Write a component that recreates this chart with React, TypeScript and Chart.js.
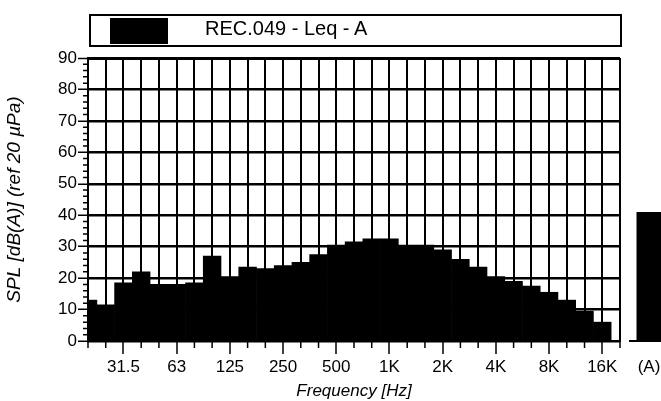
import React, { useEffect, useRef } from "react";
import { Chart, registerables } from "chart.js";

Chart.register(...registerables);

const bands = ["20", "25", "31.5", "40", "50", "63", "80", "100", "125", "160", "200", "250", "315", "400", "500", "630", "800", "1K", "1.25K", "1.6K", "2K", "2.5K", "3.15K", "4K", "5K", "6.3K", "8K", "10K", "12.5K", "16K", "20K"];
const majorLabels = ["31.5", "63", "125", "250", "500", "1K", "2K", "4K", "8K", "16K"];
const leqA = [13, 11.5, 18.5, 22, 18, 18, 18.5, 27, 20.5, 23.5, 23, 24, 25, 27.5, 30.5, 31.5, 32.5, 32.5, 30.5, 30.5, 29, 26, 23.5, 20.5, 19, 17.5, 15.5, 13, 9.5, 6, 0];
const totalLabels = ["(A)"];
const totalValues = [41];
const seriesName = "REC.049 - Leq - A";
const xTitle = "Frequency [Hz]";
const yTitle = "SPL [dB(A)] (ref 20 µPa)";

const FONT = "'Liberation Sans', Arial, Helvetica, sans-serif";
const BLACK = "#000";
const CLEAR = "rgba(0,0,0,0)";

const minorTicks = {
  id: "minorTicks",
  afterDraw(chart: any) {
    const { ctx, chartArea, scales } = chart;
    const x = scales.x;
    const y = scales.y;
    ctx.save();
    ctx.strokeStyle = BLACK;
    ctx.lineWidth = 1.5;
    ctx.beginPath();
    x.ticks.forEach((_t: any, i: number) => {
      if (!majorLabels.includes(bands[i])) {
        const px = x.getPixelForTick(i);
        ctx.moveTo(px, chartArea.bottom);
        ctx.lineTo(px, chartArea.bottom + 7);
      }
    });
    y.ticks.forEach((t: any) => {
      if (t.value % 10 !== 0) {
        const py = y.getPixelForValue(t.value);
        ctx.moveTo(chartArea.left - 5, py);
        ctx.lineTo(chartArea.left, py);
      }
    });
    ctx.stroke();
    ctx.restore();
  },
};

export default function App() {
  const mainRef = useRef<HTMLCanvasElement>(null);
  const totRef = useRef<HTMLCanvasElement>(null);

  useEffect(() => {
    const main = new Chart(mainRef.current as HTMLCanvasElement, {
      type: "bar",
      data: {
        labels: bands,
        datasets: [
          {
            label: seriesName,
            data: leqA,
            backgroundColor: BLACK,
            borderWidth: 0,
            barPercentage: 1,
            categoryPercentage: 1,
            clip: 0,
          } as any,
        ],
      },
      options: {
        animation: false,
        responsive: false,
        layout: { padding: { left: 0, right: 5, top: 58, bottom: 0 } },
        plugins: { legend: { display: false }, tooltip: { enabled: false } },
        scales: {
          x: {
            type: "category",
            offset: false,
            grid: {
              offset: false,
              color: BLACK,
              lineWidth: 2,
              tickColor: (c: any) => (majorLabels.includes(bands[c.index]) ? BLACK : CLEAR),
              tickWidth: 1.5,
              tickLength: 13,
            },
            border: { display: true, color: BLACK, width: 2 },
            ticks: {
              autoSkip: false,
              maxRotation: 0,
              minRotation: 0,
              padding: 3,
              color: BLACK,
              font: { family: FONT, size: 17 },
              callback: (_v: any, i: number) => (majorLabels.includes(bands[i]) ? bands[i] : ""),
            },
            title: {
              display: true,
              text: xTitle,
              color: BLACK,
              font: { family: FONT, size: 17, style: "italic" },
              padding: { top: 0, bottom: 0 },
            },
            afterFit: (s: any) => {
              s.height = 60;
            },
          },
          y: {
            min: 0,
            max: 90,
            grid: {
              color: (c: any) => (c.tick && c.tick.value % 10 === 0 ? BLACK : CLEAR),
              lineWidth: (c: any) => (c.tick && c.tick.value === 90 ? 3 : c.tick && c.tick.value % 10 === 0 ? 2.5 : 0),
              tickColor: (c: any) => (c.tick && c.tick.value % 10 === 0 ? BLACK : CLEAR),
              tickWidth: 1.5,
              tickLength: 10,
            },
            border: { display: true, color: BLACK, width: 2 },
            ticks: {
              stepSize: 2,
              autoSkip: false,
              padding: 1,
              color: BLACK,
              font: { family: FONT, size: 17 },
              callback: (v: any) => (Number(v) % 10 === 0 ? String(v) : ""),
            },
            title: {
              display: true,
              text: yTitle,
              color: BLACK,
              font: { family: FONT, size: 19, style: "italic" },
              padding: { top: 3, bottom: 0 },
            },
            afterFit: (s: any) => {
              s.width = 88;
            },
          },
        },
      },
      plugins: [minorTicks],
    });

    const tot = new Chart(totRef.current as HTMLCanvasElement, {
      type: "bar",
      data: {
        labels: totalLabels,
        datasets: [
          {
            data: totalValues,
            backgroundColor: BLACK,
            borderWidth: 0,
            barPercentage: 25 / 38,
            categoryPercentage: 1,
          },
        ],
      },
      options: {
        animation: false,
        responsive: false,
        layout: { padding: { left: 8, right: 4, top: 58, bottom: 0 } },
        plugins: { legend: { display: false }, tooltip: { enabled: false } },
        scales: {
          x: {
            grid: { display: false, drawTicks: false },
            border: { display: true, color: BLACK, width: 2 },
            ticks: {
              padding: 16,
              color: BLACK,
              font: { family: FONT, size: 17 },
            },
            afterFit: (s: any) => {
              s.height = 60;
              s.paddingLeft = 0;
              s.paddingRight = 0;
            },
          },
          y: { display: false, min: 0, max: 90 },
        },
      },
    });

    return () => {
      main.destroy();
      tot.destroy();
    };
  }, []);

  return (
    <div
      style={{
        position: "fixed",
        left: 0,
        top: 0,
        width: 661,
        height: 401,
        overflow: "hidden",
        background: "#fff",
      }}
    >
      <canvas ref={mainRef} width={625} height={401} style={{ position: "absolute", left: 0, top: 0 }} />
      <canvas ref={totRef} width={50} height={401} style={{ position: "absolute", left: 622, top: 0 }} />
      <div
        style={{
          position: "absolute",
          left: 89,
          top: 14,
          width: 533,
          height: 33,
          boxSizing: "border-box",
          border: "2px solid #000",
        }}
      >
        <div
          style={{
            position: "absolute",
            left: 19,
            top: 2,
            width: 58,
            height: 26,
            background: BLACK,
          }}
        />
        <div
          style={{
            position: "absolute",
            left: 114,
            top: 2,
            fontFamily: FONT,
            fontSize: 20,
            lineHeight: "20px",
            color: BLACK,
            whiteSpace: "nowrap",
          }}
        >
          {seriesName}
        </div>
      </div>
    </div>
  );
}
